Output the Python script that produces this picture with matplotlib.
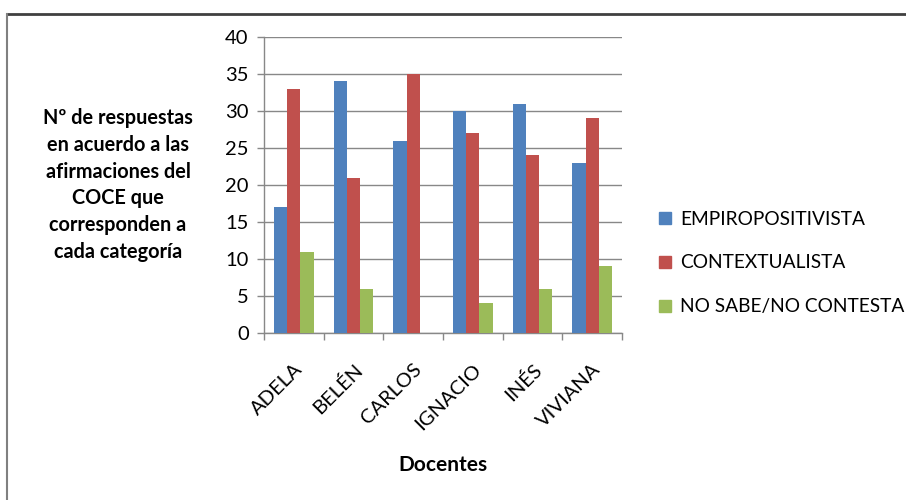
import numpy as np
import matplotlib.pyplot as plt
from matplotlib.lines import Line2D

docentes = ['ADELA', 'BELÉN', 'CARLOS', 'IGNACIO', 'INÉS', 'VIVIANA']
empiropositivista = [17, 34, 26, 30, 31, 23]
contextualista = [33, 21, 35, 27, 24, 29]
no_sabe = [11, 6, 0, 4, 6, 9]
series_names = ['EMPIROPOSITIVISTA', 'CONTEXTUALISTA', 'NO SABE/NO CONTESTA']
y_ticks = [0, 5, 10, 15, 20, 25, 30, 35, 40]

colors = ['#4F81BD', '#C0504D', '#9BBB59']
grid_color = '#888888'
font = ['Lato', 'DejaVu Sans']

plt.rcParams['font.family'] = font

fig = plt.figure(figsize=(9.06, 5.0), dpi=100)
ax = fig.add_axes([264 / 906, 1 - 333 / 500, (622 - 264) / 906, (333 - 37) / 500])

x = np.arange(len(docentes))
bar_w = 0.222
for i, vals in enumerate([empiropositivista, contextualista, no_sabe]):
    ax.bar(x + (i - 1) * bar_w, vals, width=bar_w, color=colors[i], zorder=3)

ax.set_xlim(-0.5, len(docentes) - 0.5)
ax.set_ylim(0, 40)
ax.set_yticks(y_ticks)
ax.yaxis.grid(True, color=grid_color, linewidth=1.0, zorder=0)
ax.tick_params(axis='y', length=5, width=1, color=grid_color, labelsize=14.5, pad=6)

ax.set_xticks(x)
ax.set_xticklabels(docentes, rotation=45, ha='right', va='top', rotation_mode='anchor', fontsize=14.5)
ax.tick_params(axis='x', which='major', length=0, pad=20)
ax.set_xticks(np.arange(-0.5, len(docentes)), minor=True)
ax.tick_params(axis='x', which='minor', length=5, width=1, color=grid_color)

for side in ['top', 'right']:
    ax.spines[side].set_visible(False)
for side in ['left', 'bottom']:
    ax.spines[side].set_color(grid_color)
    ax.spines[side].set_linewidth(1.0)

fig.text(118 / 906, 1 - 185 / 500,
         'Nº de respuestas\nen acuerdo a las\nafirmaciones del\nCOCE que\ncorresponden a\ncada categoría',
         ha='center', va='center', fontsize=14.3, fontweight='bold', linespacing=1.42)
fig.text(443 / 906, 1 - 465 / 500, 'Docentes', ha='center', va='center',
         fontsize=15, fontweight='bold')

handles = [Line2D([], [], marker='s', linestyle='none', markersize=8,
                  markerfacecolor=c, markeredgecolor=c) for c in colors]
fig.legend(handles, series_names, loc='upper left', bbox_to_anchor=(646 / 906, 1 - 203 / 500),
           frameon=False, fontsize=13.8, handletextpad=0.2, labelspacing=1.4,
           handlelength=1.2, borderaxespad=0)

# outer chart border
fig.add_artist(Line2D([7 / 906, 1.0], [1 - 14 / 500] * 2, color='#404040', linewidth=2))
fig.add_artist(Line2D([7 / 906] * 2, [0, 1 - 14 / 500], color='#808080', linewidth=1.5))

fig.savefig('out.png', dpi=100)
